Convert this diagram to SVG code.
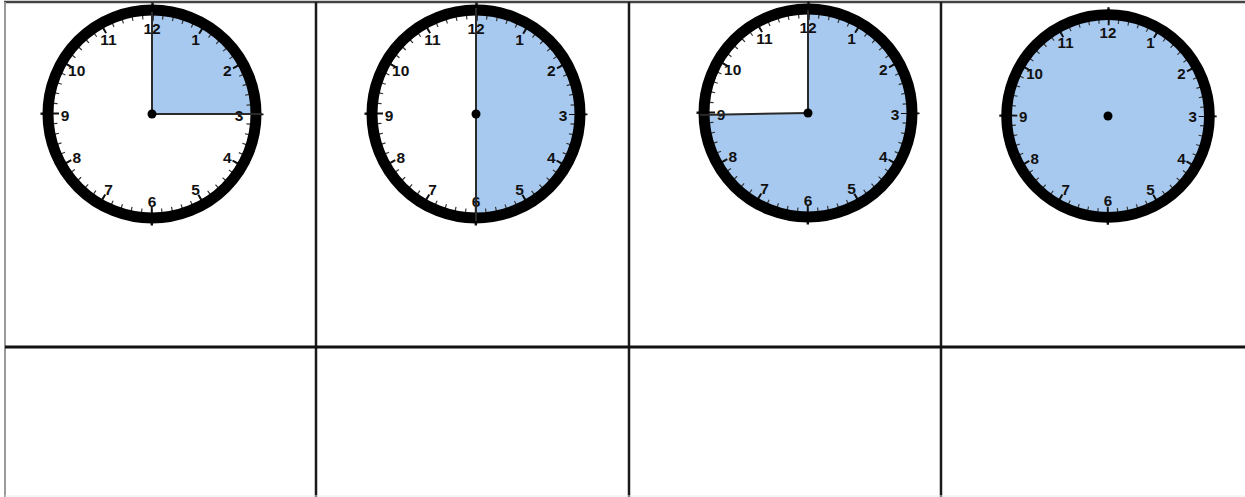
<svg xmlns="http://www.w3.org/2000/svg" xmlns:xlink="http://www.w3.org/1999/xlink" width="1245" height="497" viewBox="0 0 1245 497">
<style>
.num{font-family:"Liberation Sans",Arial,sans-serif;font-weight:bold;font-size:15.5px;fill:#111;text-anchor:middle}
.blue{fill:#a8c9ef}
.hand{stroke:#2a2a2a;stroke-width:2;fill:none}
.grid{stroke:#1a1a1a;stroke-width:2.5}
</style>
<defs>
<g id="dial">
<circle r="97" fill="none" stroke="#333" stroke-width="4" stroke-dasharray="1.2 8.958" stroke-dashoffset="0.6"/>
<circle r="96" fill="none" stroke="#111" stroke-width="6" stroke-dasharray="2 48.265" stroke-dashoffset="1"/>
<circle r="110" fill="none" stroke="#111" stroke-width="3" stroke-dasharray="2.5 170.29" stroke-dashoffset="1.25"/>
<circle r="104" fill="none" stroke="#000" stroke-width="11"/>
<text class="num" x="0" y="-80">12</text>
<text class="num" x="43.5" y="-69.5">1</text>
<text class="num" x="75.3" y="-38">2</text>
<text class="num" x="87" y="6.5">3</text>
<text class="num" x="75.3" y="49">4</text>
<text class="num" x="43.5" y="80.8">5</text>
<text class="num" x="0" y="92.5">6</text>
<text class="num" x="-43.5" y="80.8">7</text>
<text class="num" x="-75.3" y="49">8</text>
<text class="num" x="-87" y="6.5">9</text>
<text class="num" x="-75.3" y="-38">10</text>
<text class="num" x="-43.5" y="-69.5">11</text>
</g>
</defs>
<rect width="1245" height="497" fill="#fff"/>
<g id="grid">
<line x1="4" y1="2" x2="1245" y2="2" stroke="#444" stroke-width="2.5"/>
<line x1="5" y1="2" x2="5" y2="497" stroke="#9a9a9a" stroke-width="2"/>
<line x1="316" y1="2" x2="316" y2="497" class="grid"/>
<line x1="629" y1="2" x2="629" y2="497" class="grid"/>
<line x1="941" y1="2" x2="941" y2="497" class="grid"/>
<line x1="5" y1="347" x2="1245" y2="347" stroke="#111" stroke-width="3"/>
<line x1="5" y1="496" x2="1245" y2="496" stroke="#ececec" stroke-width="1"/>
</g>
<g id="clock1">
<circle cx="152" cy="114" r="100" fill="#fff"/>
<path class="blue" d="M152,114 V14 A100,100 0 0 1 252,114 Z"/>
<use xlink:href="#dial" href="#dial" transform="translate(152,114)"/>
<line class="hand" x1="152" y1="114" x2="152" y2="12"/>
<line class="hand" x1="152" y1="114" x2="262" y2="114"/>
<circle cx="152" cy="114" r="4.5" fill="#000"/>
</g>
<g id="clock2">
<circle cx="476" cy="114" r="100" fill="#fff"/>
<path class="blue" d="M476,14 A100,100 0 0 1 476,214 Z"/>
<use xlink:href="#dial" href="#dial" transform="translate(476,114)"/>
<line class="hand" x1="476" y1="8" x2="476" y2="221"/>
<circle cx="476" cy="114" r="4.5" fill="#000"/>
</g>
<g id="clock3">
<circle cx="808" cy="113" r="100" fill="#fff"/>
<path class="blue" d="M808,113 V13 A100,100 0 1 1 708,114 Z"/>
<use xlink:href="#dial" href="#dial" transform="translate(808,113)"/>
<line class="hand" x1="808" y1="113" x2="808" y2="10"/>
<line class="hand" x1="808" y1="113" x2="700" y2="115"/>
<circle cx="808" cy="113" r="4.5" fill="#000"/>
</g>
<g id="clock4">
<circle class="blue" cx="1108" cy="116" r="100"/>
<use xlink:href="#dial" href="#dial" transform="translate(1108,116) scale(0.975)"/>
<circle cx="1108" cy="116" r="4.5" fill="#000"/>
</g>
</svg>
